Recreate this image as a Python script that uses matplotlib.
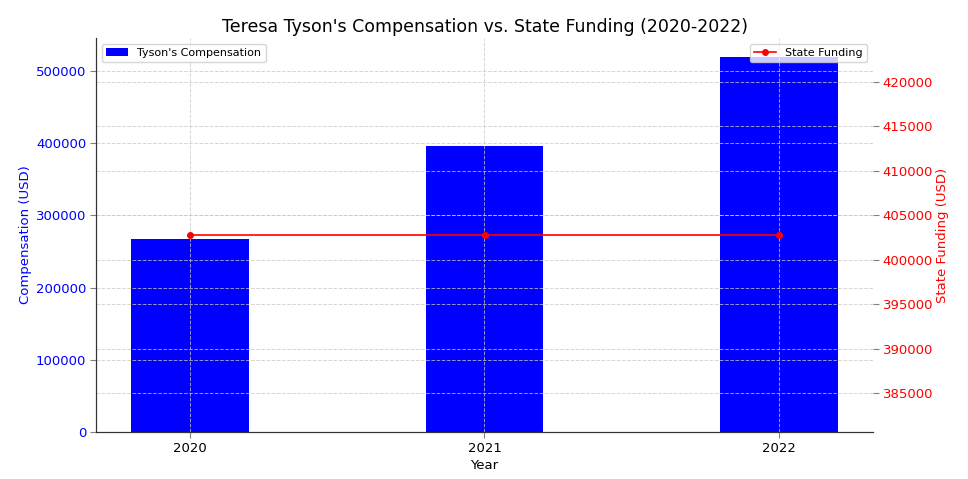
import matplotlib
matplotlib.use("Agg")
import matplotlib.pyplot as plt

years = ["2020", "2021", "2022"]
compensation = [266700, 395800, 519400]
state_funding = [402780, 402780, 402780]

fig = plt.figure(figsize=(9.68, 4.79), dpi=100)
ax1 = fig.add_axes([96/968, 1-432/479, (873-96)/968, (432-38)/479])
ax1.set_axisbelow(False)
x = list(range(len(years)))
ax1.bar(x, compensation, width=0.4, color="blue", label="Tyson's Compensation")
ax1.set_xticks(x)
ax1.set_xticklabels(years)
ax1.set_xlabel("Year", fontsize=9.5, labelpad=3)
ax1.set_ylabel("Compensation (USD)", color="blue", fontsize=9.5, labelpad=3)
ax1.tick_params(axis="y", labelcolor="blue", labelsize=9.5, color="gray", length=4, pad=3)
ax1.tick_params(axis="x", labelsize=9.5, color="gray", length=4, pad=3)
ax1.grid(True, linestyle="--", color="#c8c8c8", alpha=0.75, linewidth=0.7)
ax1.legend(loc="upper left", fontsize=8)
ax1.set_title("Teresa Tyson's Compensation vs. State Funding (2020-2022)", fontsize=12.5, pad=4)

ax2 = ax1.twinx()
ax2.plot(x, state_funding, color="red", marker="o", markersize=4, linewidth=1.2, label="State Funding")
ax2.set_ylabel("State Funding (USD)", color="red", fontsize=9.5, labelpad=2)
ax2.tick_params(axis="y", labelcolor="red", labelsize=9.5, color="gray", length=4, pad=3)
ax2.grid(True, linestyle="--", color="#c8c8c8", alpha=0.75, linewidth=0.7)
ax2.legend(loc="upper right", fontsize=8)
ax2.ticklabel_format(axis="y", style="plain", useOffset=False)

for ax in (ax1, ax2):
    ax.spines["top"].set_visible(False)
    ax.spines["right"].set_visible(False)
    ax.spines["left"].set_color("#333333")
    ax.spines["bottom"].set_color("#333333")

fig.savefig("out.png", dpi=100)
